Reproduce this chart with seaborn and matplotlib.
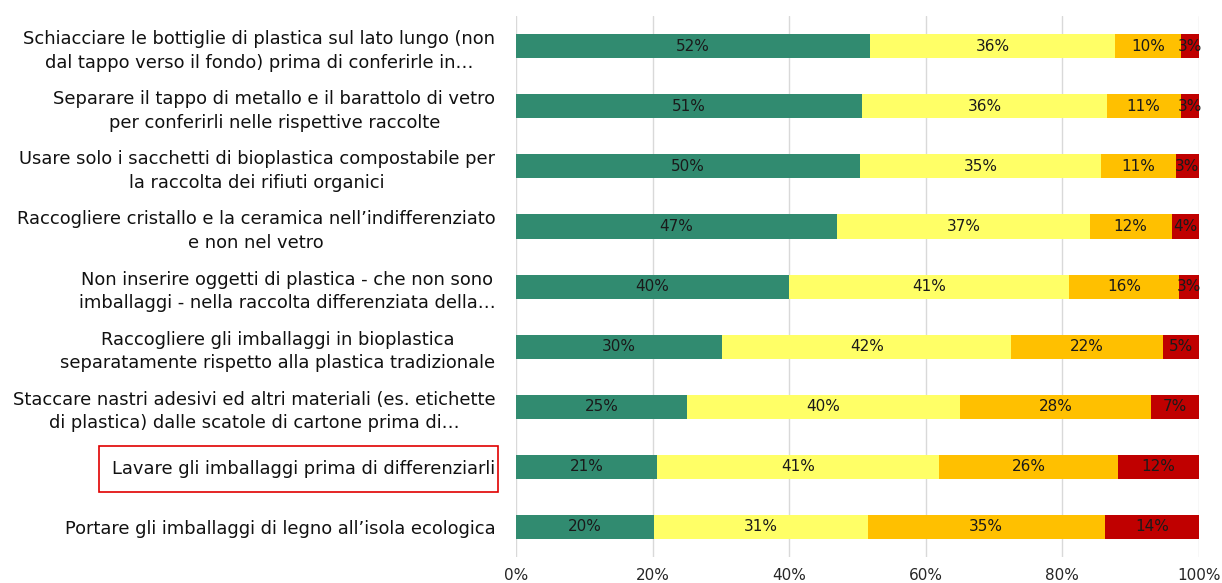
import numpy as np
import pandas as pd
import seaborn as sns
import matplotlib.pyplot as plt
from matplotlib.patches import Rectangle

# ===== DATA =====
actions = [
    "Schiacciare le bottiglie di plastica sul lato lungo (non\ndal tappo verso il fondo) prima di conferirle in…",
    "Separare il tappo di metallo e il barattolo di vetro\nper conferirli nelle rispettive raccolte",
    "Usare solo i sacchetti di bioplastica compostabile per\nla raccolta dei rifiuti organici",
    "Raccogliere cristallo e la ceramica nell’indifferenziato\ne non nel vetro",
    "Non inserire oggetti di plastica - che non sono\nimballaggi - nella raccolta differenziata della…",
    "Raccogliere gli imballaggi in bioplastica\nseparatamente rispetto alla plastica tradizionale",
    "Staccare nastri adesivi ed altri materiali (es. etichette\ndi plastica) dalle scatole di cartone prima di…",
    "Lavare gli imballaggi prima di differenziarli",
    "Portare gli imballaggi di legno all’isola ecologica",
]
green = [51.8, 50.7, 50.4, 47.0, 40.0, 30.2, 25.0, 20.6, 20.2]
yellow = [35.9, 35.8, 35.3, 37.0, 41.0, 42.3, 40.0, 41.4, 31.3]
orange = [9.6, 10.8, 10.9, 12.0, 16.0, 22.2, 28.0, 26.2, 34.7]
red = [2.7, 2.7, 3.4, 4.0, 3.0, 5.3, 7.0, 11.8, 13.8]

colors = ["#318B70", "#FFFF66", "#FFC000", "#C00000"]
highlight = "Lavare gli imballaggi prima di differenziarli"

# ===== PREP =====
df = pd.DataFrame({"action": actions, "green": green, "yellow": yellow,
                   "orange": orange, "red": red})
series = ["green", "yellow", "orange", "red"]
cum = df[series].cumsum(axis=1)

sns.set_style("white")
plt.rcParams['font.family'] = ['DejaVu Sans']

fig = plt.figure(figsize=(12.22, 5.83), dpi=100)
ax = fig.add_axes([0.4223, 0.045, 0.5589, 0.927])

# stacked bars drawn as overlapping cumulative totals
for s, c in reversed(list(zip(series, colors))):
    sns.barplot(data=cum.assign(action=df["action"]), x=s, y="action",
                orient="h", color=c, saturation=1, width=0.4, ax=ax,
                linewidth=0)

# segment labels
for i, row in df.iterrows():
    start = 0
    for s in series:
        v = row[s]
        ax.text(start + v / 2, i, f"{v:.0f}%", ha="center", va="center",
                fontsize=11, color="#1a1a1a")
        start += v

ax.set_xlim(0, 100)
ax.set_ylim(len(actions) - 0.5, -0.5)
ax.set_xticks(np.arange(0, 101, 20))
ax.set_xticklabels([f"{t}%" for t in range(0, 101, 20)], fontsize=11)
ax.set_xlabel("")
ax.set_ylabel("")
ax.xaxis.grid(True, color="#D9D9D9", linewidth=1)
ax.set_axisbelow(True)
for sp in ax.spines.values():
    sp.set_visible(False)
ax.tick_params(axis="both", length=0)
ax.tick_params(axis="y", pad=15, labelsize=12.9)
ax.tick_params(axis="x", pad=8)
for lab in ax.get_yticklabels():
    lab.set_multialignment("center")
    lab.set_linespacing(1.4)
    lab.set_color("#111111")

# red box around the highlighted label
fig.canvas.draw()
renderer = fig.canvas.get_renderer()
for lab in ax.get_yticklabels():
    if lab.get_text() == highlight:
        bb = lab.get_window_extent(renderer)
        rect = Rectangle((bb.x0 - 13, bb.y0 - 14), bb.width + 16, bb.height + 28,
                         transform=None, fill=False, edgecolor="#E00000",
                         linewidth=1.2, clip_on=False)
        fig.add_artist(rect)

fig.savefig("out.png", dpi=100)
